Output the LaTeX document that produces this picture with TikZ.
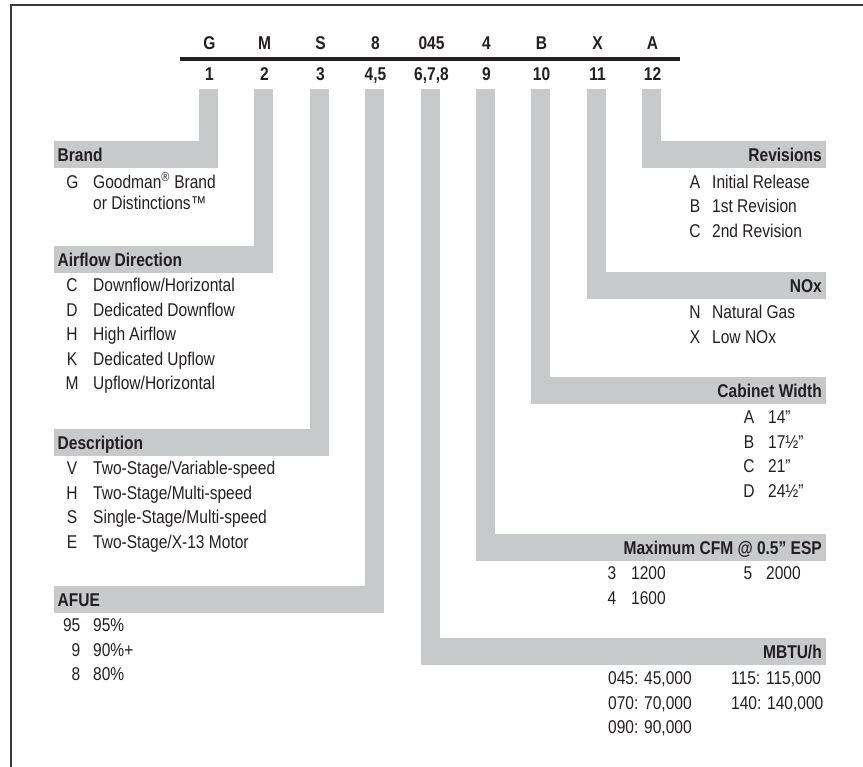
\documentclass[tikz,border=0pt]{standalone}
\usepackage{fontspec}
\setmainfont{Liberation Sans}[FakeStretch=0.84]
\definecolor{bandgray}{RGB}{200,201,203}
\definecolor{ink}{RGB}{35,31,32}
\definecolor{framegray}{RGB}{55,55,55}
\begin{document}
\begin{tikzpicture}[x=1pt,y=-1pt,
  band/.style={fill=bandgray,draw=none},
  txt/.style={inner sep=0pt,text height=13.2pt,text depth=0pt,text=ink,font=\fontsize{18.5}{21}\selectfont},
  hd/.style={txt,font=\fontsize{18.5}{21}\selectfont\bfseries},
  framestyle/.style={draw=framegray,line width=2pt},
  rule/.style={draw=ink,line width=3.6pt}]
\useasboundingbox (0,0) rectangle (863,767);
% frame
\draw[framestyle] (10.7,767) -- (10.7,4.7) -- (863,4.7);
% code row
\coordinate (ruleL) at (180,59);
\coordinate (ruleR) at (680,59);
\draw[rule] (ruleL) -- (ruleR);
\foreach \c/\l/\n [count=\i] in {209.5/G/1, 264.5/M/2, 320.5/S/3, 375.5/8/{4,5}, 431.5/045/{6,7,8}, 486.5/4/9, 541.5/B/10, 597.5/X/11, 652.5/A/12}{
  \node[hd] (L\i) at (\c,43) {\l};
  \node[hd] (N\i) at (\c,74) {\n};
}
% left L-shaped bars
\fill[band] (199,89) rectangle (218,168);  \fill[band] (54,141) rectangle (218,168);
\fill[band] (254,89) rectangle (273,273);  \fill[band] (54,246) rectangle (273,273);
\fill[band] (310,89) rectangle (329,456);  \fill[band] (54,429) rectangle (329,456);
\fill[band] (365,89) rectangle (384,613);  \fill[band] (54,586) rectangle (384,613);
% right L-shaped bars
\fill[band] (421,89) rectangle (440,665);  \fill[band] (421,638) rectangle (826,665);
\fill[band] (476,89) rectangle (495,561);  \fill[band] (476,534) rectangle (826,561);
\fill[band] (531,89) rectangle (550,404);  \fill[band] (531,377) rectangle (826,404);
\fill[band] (587,89) rectangle (606,299);  \fill[band] (587,272) rectangle (826,299);
\fill[band] (642,89) rectangle (661,168);  \fill[band] (642,141) rectangle (826,168);
% Brand
\node[hd,anchor=west] (hBrand) at (57.5,154.5) {Brand};
\node[txt] (bG) at (72.5,181.5) {G};
\node[txt,anchor=west] (bGt) at (93,181.5) {Goodman\textsuperscript{®} Brand};
\node[txt,anchor=west] (bGt2) at (93,202.5) {or Distinctions™};
% Airflow
\node[hd,anchor=west] (hAir) at (57.5,259.5) {Airflow Direction};
\foreach \y/\k/\t [count=\i] in {285/C/Downflow\slash Horizontal, 309.5/D/Dedicated Downflow, 334/H/High Airflow, 358.5/K/Dedicated Upflow, 383/M/Upflow\slash Horizontal}{
  \node[txt] (aK\i) at (72,\y) {\k};
  \node[txt,anchor=west] (aT\i) at (93,\y) {\t};
}
% Description
\node[hd,anchor=west] (hDesc) at (57.5,442.5) {Description};
\foreach \y/\k/\t [count=\i] in {468/V/Two-Stage\slash Variable-speed, 492.5/H/Two-Stage\slash Multi-speed, 517/S/Single-Stage\slash Multi-speed, 541.5/E/Two-Stage\slash X-13 Motor}{
  \node[txt] (dK\i) at (72,\y) {\k};
  \node[txt,anchor=west] (dT\i) at (93,\y) {\t};
}
% AFUE
\node[hd,anchor=west] (hAfue) at (57.5,599.5) {AFUE};
\foreach \y/\k/\t [count=\i] in {625/95/95\%, 649.5/9/90\%+, 674/8/80\%}{
  \node[txt,anchor=east] (fK\i) at (80.5,\y) {\k};
  \node[txt,anchor=west] (fT\i) at (93,\y) {\t};
}
% Revisions
\node[hd,anchor=east] (hRev) at (822,154.5) {Revisions};
\foreach \y/\k/\t [count=\i] in {181.5/A/Initial Release, 206/B/1st Revision, 230.5/C/2nd Revision}{
  \node[txt] (rK\i) at (695,\y) {\k};
  \node[txt,anchor=west] (rT\i) at (712,\y) {\t};
}
% NOx
\node[hd,anchor=east] (hNox) at (822,285.5) {NOx};
\foreach \y/\k/\t [count=\i] in {312/N/Natural Gas, 336.5/X/Low NOx}{
  \node[txt] (nK\i) at (695,\y) {\k};
  \node[txt,anchor=west] (nT\i) at (712,\y) {\t};
}
% Cabinet width
\node[hd,anchor=east] (hCab) at (822,390.5) {Cabinet Width};
\foreach \y/\k/\t [count=\i] in {417/A/14”, 441.5/B/17½”, 466/C/21”, 490.5/D/24½”}{
  \node[txt] (cK\i) at (749,\y) {\k};
  \node[txt,anchor=west] (cT\i) at (768,\y) {\t};
}
% CFM
\node[hd,anchor=east] (hCfm) at (822,547.5) {Maximum CFM @ 0.5” ESP};
\node[txt] (mK1) at (612,573) {3};
\node[txt,anchor=west] (mT1) at (631,573) {1200};
\node[txt] (mK2) at (612,597.5) {4};
\node[txt,anchor=west] (mT2) at (631,597.5) {1600};
\node[txt] (mK3) at (748,573) {5};
\node[txt,anchor=west] (mT3) at (766,573) {2000};
% MBTU
\node[hd,anchor=east] (hMbtu) at (822,651.5) {MBTU/h};
\node[txt,anchor=west] (u1) at (608,678) {045: 45,000};
\node[txt,anchor=west] (u2) at (608,702.5) {070: 70,000};
\node[txt,anchor=west] (u3) at (608,727) {090: 90,000};
\node[txt,anchor=west] (u4) at (731,678) {115: 115,000};
\node[txt,anchor=west] (u5) at (731,702.5) {140: 140,000};
\end{tikzpicture}
\end{document}
